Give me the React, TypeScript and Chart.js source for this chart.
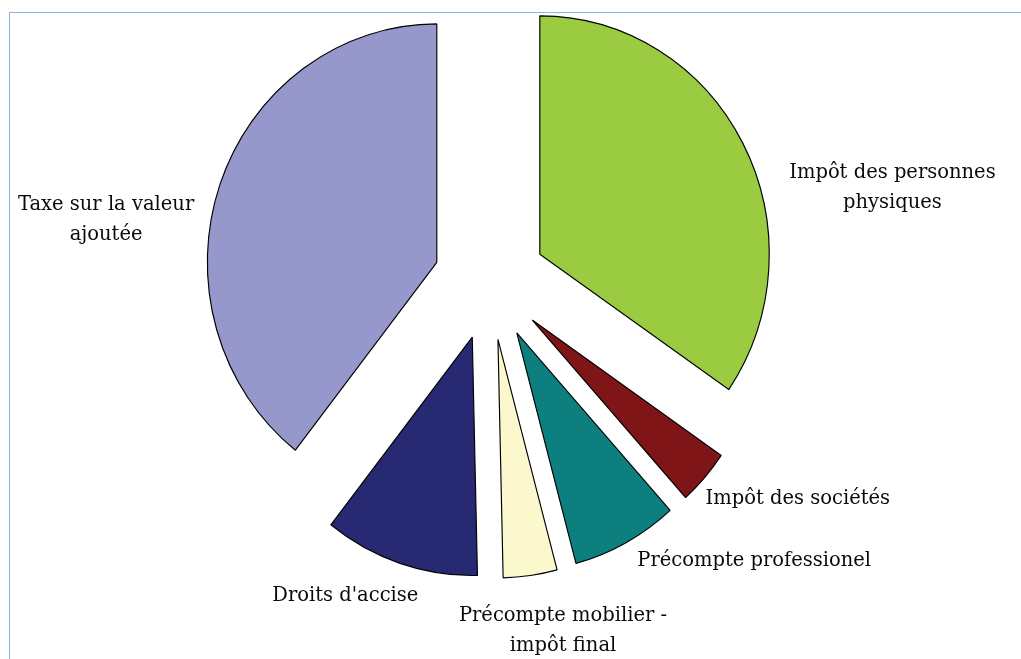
import React, { useEffect, useRef } from "react";
import { Chart, registerables } from "chart.js";

Chart.register(...registerables);

// ---- data ----
const categories = [
  "Impôt des personnes physiques",
  "Impôt des sociétés",
  "Précompte professionel",
  "Précompte mobilier - impôt final",
  "Droits d'accise",
  "Taxe sur la valeur ajoutée",
];
const labelLines = [
  ["Impôt des personnes", "physiques"],
  ["Impôt des sociétés"],
  ["Précompte professionel"],
  ["Précompte mobilier -", "impôt final"],
  ["Droits d'accise"],
  ["Taxe sur la valeur", "ajoutée"],
];
const shares = [34.6, 3.75, 7.5, 3.79, 10.93, 39.43];
const colors = ["#9ACB40", "#7F1517", "#0E7F7F", "#FAF8CC", "#272A72", "#9697CA"];

// ---- layout ----
const W = 1021;
const H = 659;
const CX = 490;
const CY = 281.5;
const RADIUS = 238.5;
const X_SCALE = 0.962;
const EXPLODE = 58.5;
const labelNudge = [
  [149.5, 43],
  [93.2, 19.8],
  [128.1, 15.8],
  [32.7, 53],
  [-54.6, 30.1],
  [-113.8, 33],
];
const FONT_SIZE = 19.5;
const LINE_H = 30;
const FONT_FAMILY = "'DejaVu Serif', 'Liberation Serif', serif";

function center(chart: any) {
  const { left, right, top, bottom } = chart.chartArea;
  return { cx: (left + right) / 2, cy: (top + bottom) / 2 };
}

const explodePlugin = {
  id: "explodeSlices",
  beforeDatasetDraw(chart: any) {
    const meta = chart.getDatasetMeta(0);
    const { cx, cy } = center(chart);
    meta.data.forEach((arc: any) => {
      const mid = (arc.startAngle + arc.endAngle) / 2;
      arc.x = cx + Math.cos(mid) * EXPLODE;
      arc.y = cy + Math.sin(mid) * EXPLODE;
    });
    const ctx = chart.ctx;
    ctx.save();
    ctx.translate(cx, 0);
    ctx.scale(X_SCALE, 1);
    ctx.translate(-cx, 0);
  },
  afterDatasetDraw(chart: any) {
    chart.ctx.restore();
  },
};

const labelPlugin = {
  id: "sliceLabels",
  afterDatasetsDraw(chart: any) {
    const ctx = chart.ctx;
    const meta = chart.getDatasetMeta(0);
    const { cx, cy } = center(chart);
    ctx.save();
    ctx.font = `${FONT_SIZE}px ${FONT_FAMILY}`;
    ctx.fillStyle = "#0a0a0a";
    ctx.textAlign = "center";
    ctx.textBaseline = "middle";
    meta.data.forEach((arc: any, i: number) => {
      const mid = (arc.startAngle + arc.endAngle) / 2;
      const d = EXPLODE + RADIUS;
      const ex = cx + Math.cos(mid) * d * X_SCALE;
      const ey = cy + Math.sin(mid) * d;
      const lx = ex + labelNudge[i][0];
      const ly = ey + labelNudge[i][1];
      const lines = labelLines[i];
      const y0 = ly - ((lines.length - 1) * LINE_H) / 2 + 2;
      lines.forEach((t, k) => ctx.fillText(t, lx, y0 + k * LINE_H));
    });
    ctx.restore();
  },
};

export default function App() {
  const ref = useRef<HTMLCanvasElement | null>(null);
  useEffect(() => {
    if (!ref.current) return;
    const chart = new Chart(ref.current, {
      type: "pie",
      data: {
        labels: categories,
        datasets: [
          {
            data: shares,
            backgroundColor: colors,
            borderColor: "#000000",
            borderWidth: 1.2,
          },
        ],
      },
      options: {
        responsive: false,
        animation: false,
        radius: RADIUS,
        layout: { padding: { left: 0, top: 0, right: W - 2 * CX, bottom: H - 2 * CY } },
        plugins: {
          legend: { display: false },
          tooltip: { enabled: false },
        },
        events: [],
      } as any,
      plugins: [explodePlugin, labelPlugin],
    });
    return () => chart.destroy();
  }, []);

  return (
    <div style={{ position: "fixed", left: 0, top: 0, width: W, height: H, background: "#ffffff", overflow: "hidden" }}>
      <div
        style={{
          position: "absolute",
          left: 9,
          top: 12,
          width: W + 50,
          height: H + 50,
          borderTop: "1px solid #95B3D7",
          borderLeft: "1px solid #95B3D7",
        }}
      />
      <canvas ref={ref} width={W} height={H} style={{ position: "absolute", left: 0, top: 0 }} />
    </div>
  );
}
